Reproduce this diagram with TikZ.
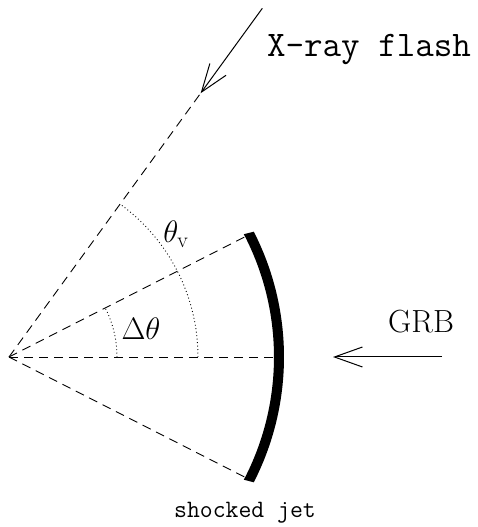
\RequirePackage{fix-cm}
\documentclass[tikz,border=0pt]{standalone}
\usetikzlibrary{arrows.meta,calc}
\begin{document}
\begin{tikzpicture}[x=1pt,y=1pt,
  dashline/.style={dash pattern=on 9pt off 6pt, line width=0.9pt},
  arcline/.style={dash pattern=on 0.9pt off 2.6pt, line width=0.9pt},
  raytip/.style={-{Straight Barb[length=28pt,width=20pt,line width=1pt]}, line width=1pt},
  lbl/.style={font=\ttfamily\fontsize{36}{40}\selectfont, inner sep=0pt},
  mlbl/.style={font=\fontsize{31}{36}\selectfont, inner sep=0pt}]
\useasboundingbox (0,0) rectangle (478,527);
\coordinate (O) at (9,170);
\coordinate (E1) at ($(O)+(27:268)$);
\coordinate (E2) at ($(O)+(-27:268)$);
\coordinate (E0) at ($(O)+(0:272)$);
\coordinate (XT) at ($(O)+(54:326)$);
\coordinate (XS) at ($(O)+(54:431)$);
\coordinate (GS) at (442,170);
\coordinate (GT) at (333,170);
% dashed rays
\draw[dashline] (O) -- (E1);
\draw[dashline] (O) -- (E2);
\draw[dashline] (O) -- (E0);
\draw[dashline] (O) -- (XT);
% angle arcs
\draw[arcline] ($(O)+(0:108)$) arc[start angle=0, end angle=27, radius=108];
\draw[arcline] ($(O)+(0:189)$) arc[start angle=0, end angle=54, radius=189];
% shocked shell
\fill ($(O)+(-27.6:265)$) arc[start angle=-27.6, end angle=27.6, radius=265]
  -- ($(O)+(27.1:275)$) arc[start angle=27.1, end angle=-27.1, radius=275] -- cycle;
% arrows
\draw[raytip] (XS) -- (XT);
\draw[raytip] (GS) -- (GT);
% labels
\node[lbl] (xrf) at (369,477) {X-ray flash};
\node[font=\rmfamily\fontsize{32}{36}\selectfont, inner sep=0pt] (grb) at (421,205) {GRB};
\node[font=\ttfamily\fontsize{25}{28}\selectfont, inner sep=0pt] (sj) at (245,14) {shocked jet};
\node[mlbl] (tv) at (176,293) {$\theta_{\mathrm{v}}$};
\node[mlbl] (dt) at (141,198) {$\Delta\theta$};
\end{tikzpicture}
\end{document}
